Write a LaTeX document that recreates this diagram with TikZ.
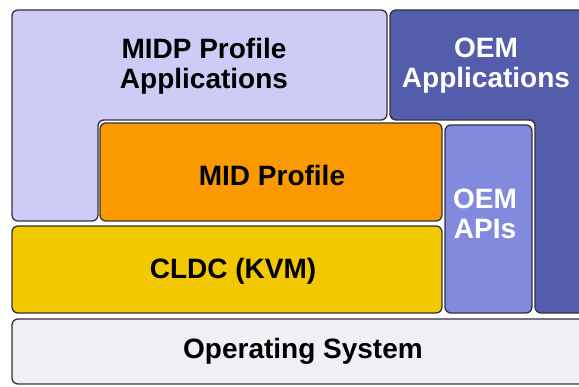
\documentclass[tikz,border=0pt]{standalone}
\usepackage{fontspec}
\setmainfont{Liberation Sans}
\definecolor{lav}{RGB}{206,204,246}
\definecolor{oemdark}{RGB}{84,92,172}
\definecolor{oemapi}{RGB}{130,138,222}
\definecolor{midorange}{RGB}{250,154,0}
\definecolor{cldcyellow}{RGB}{242,200,0}
\definecolor{osgray}{RGB}{240,240,244}
\definecolor{edge}{RGB}{50,50,60}
\tikzset{
  blockshape/.style={draw=edge, line width=1.3pt, rounded corners=6pt},
  lbl/.style={font=\fontsize{28}{30}\selectfont\bfseries, align=center, inner sep=0pt},
}
\begin{document}
\begin{tikzpicture}[x=1pt,y=-1pt]
\useasboundingbox[fill=white] (0,0) rectangle (579,387);
% MIDP Profile Applications (L shape)
\draw[blockshape, fill=lav] (12,10) -- (387,10) -- (387,120) -- (98,120) -- (98,221) -- (12,221) -- cycle;
% OEM Applications (inverted L)
\draw[blockshape, fill=oemdark] (390,10) -- (590,10) -- (590,313) -- (535,313) -- (535,120) -- (390,120) -- cycle;
% OEM APIs
\draw[blockshape, fill=oemapi] (445,125) rectangle (532,313);
% MID Profile
\draw[blockshape, fill=midorange] (100,123) rectangle (442,221);
% CLDC
\draw[blockshape, fill=cldcyellow] (12,226) rectangle (442,313);
% Operating System
\draw[blockshape, fill=osgray] (12,319) rectangle (595,384);
% labels
\node[lbl] (midp) at (204,66) {MIDP Profile\\Applications};
\node[lbl, text=white] (oemapp) at (486,66) {OEM\\Applications};
\node[lbl] (mid) at (272,175) {MID Profile};
\node[lbl, text=white] (oemapis) at (485,214) {OEM\\APIs};
\node[lbl] (cldc) at (233,271) {CLDC (KVM)};
\node[lbl] (os) at (303,351) {Operating System};
\end{tikzpicture}
\end{document}
